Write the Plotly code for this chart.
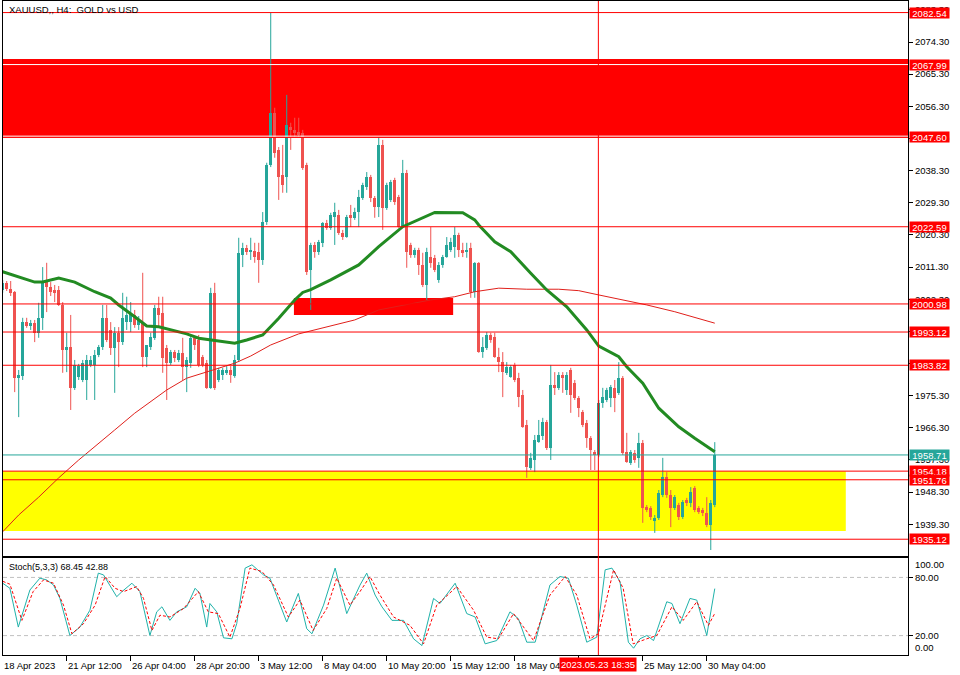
import numpy as np
import plotly.graph_objects as go

# ---------------- data ----------------
opens = [
    2004.9, 2006.9, 2005.2, 2004.3, 1980.3, 1980.8, 1995.9, 1994.8, 1995.7, 1992.9,
    1997.1, 2007.7, 2005.7, 2004.9, 2004.9, 2000.7, 1988.1, 1988.9, 1977.5, 1980.5,
    1979.7, 1979.7, 1983.9, 1983.9, 1986.7, 1988.9, 1997.1, 1993.7, 1988.7, 1992.9,
    1990.3, 1995.9, 1995.9, 1997.9, 1995.1, 1995.7, 1986.1, 1988.9, 1991.5, 1999.9,
    1998.5, 1988.7, 1984.5, 1987.5, 1985.3, 1987.3, 1983.3, 1984.5, 1991.5, 1990.9,
    1986.1, 1984.5, 1977.5, 2004.1, 1979.7, 1981.1, 1981.7, 1982.5, 1980.8, 1985.3,
    2014.7, 2016.7, 2015.5, 2015.8, 2015.5, 2013.3, 2023.9, 2039.9, 2054.5, 2044.1,
    2037.1, 2036.5, 2050.5, 2049.7, 2049.1, 2048.9, 2039.9, 2010.5, 2017.5, 2015.5,
    2018.1, 2023.7, 2022.3, 2025.3, 2025.9, 2020.9, 2019.7, 2025.9, 2025.1, 2026.7,
    2030.7, 2033.7, 2036.5, 2030.7, 2028.1, 2045.5, 2027.9, 2030.1, 2035.7, 2030.9,
    2022.5, 2037.7, 2017.5, 2014.7, 2016.1, 2011.9, 2006.3, 2014.1, 2013.9, 2007.7,
    2011.9, 2014.1, 2016.1, 2016.9, 2020.3, 2016.1, 2015.5, 2016.7, 2004.3, 2012.5,
    1987.5, 1988.7, 1992.3, 1991.7, 1986.1, 1984.7, 1981.7, 1980.5, 1983.9, 1980.3,
    1975.5, 1967.1, 1955.1, 1957.3, 1962.3, 1964.0, 1967.9, 1960.7, 1978.3, 1977.5,
    1981.1, 1976.9, 1982.5, 1978.9, 1974.7, 1970.7, 1967.7, 1963.5, 1959.5, 1958.7,
    1973.3, 1974.1, 1974.7, 1977.5, 1976.1, 1980.3, 1959.5, 1956.5, 1959.3, 1957.9,
    1962.1, 1944.1, 1943.9, 1940.2, 1941.1, 1947.5, 1952.5, 1947.5, 1943.9, 1944.7,
    1941.3, 1946.1, 1945.3, 1949.5, 1943.9, 1943.3, 1942.5, 1939.1, 1944.7,
]
highs = [
    2007.7, 2007.4, 2007.4, 2004.6, 1982.5, 1997.1, 1997.1, 1996.5, 1996.5, 2001.3,
    2011.3, 2012.5, 2007.1, 2006.3, 2006.0, 2001.5, 1992.9, 1997.9, 1985.3, 1984.2,
    1985.3, 1986.7, 1986.4, 1988.1, 1989.5, 2000.7, 2000.7, 1995.9, 1994.5, 1994.5,
    2004.1, 2003.0, 2001.5, 1999.3, 1997.6, 2009.7, 1988.9, 1992.9, 2000.7, 2003.0,
    2003.0, 1989.5, 1988.1, 1988.1, 1988.1, 1991.5, 1986.1, 1992.3, 1992.0, 1992.3,
    1986.7, 1985.3, 2005.5, 2006.9, 1983.1, 1983.1, 1983.6, 1983.6, 1986.7, 2019.5,
    2018.1, 2017.5, 2019.5, 2018.1, 2018.1, 2026.7, 2040.5, 2082.5, 2055.9, 2044.9,
    2045.5, 2059.5, 2051.7, 2053.1, 2053.1, 2049.7, 2040.5, 2018.1, 2018.3, 2018.9,
    2023.9, 2024.5, 2026.5, 2029.3, 2027.3, 2021.7, 2025.9, 2028.7, 2027.9, 2032.9,
    2034.9, 2037.9, 2037.1, 2031.2, 2047.7, 2046.9, 2034.9, 2035.7, 2036.3, 2031.5,
    2041.3, 2038.5, 2018.1, 2016.7, 2016.7, 2015.3, 2016.7, 2022.5, 2014.7, 2012.7,
    2014.7, 2019.7, 2019.5, 2022.5, 2020.9, 2018.1, 2018.1, 2018.1, 2012.7, 2012.7,
    1991.7, 1993.1, 1992.9, 1992.9, 1988.7, 1987.5, 1984.7, 1983.9, 1984.5, 1981.7,
    1976.9, 1968.5, 1959.3, 1964.3, 1968.5, 1969.1, 1968.5, 1983.9, 1981.9, 1981.9,
    1981.9, 1981.9, 1983.1, 1979.7, 1975.2, 1971.3, 1968.5, 1964.0, 1960.1, 1974.1,
    1977.5, 1977.5, 1978.3, 1979.7, 1984.7, 1980.8, 1964.9, 1960.1, 1960.1, 1964.9,
    1962.9, 1944.7, 1944.4, 1941.9, 1948.9, 1957.9, 1953.9, 1948.9, 1947.5, 1945.3,
    1946.1, 1946.7, 1949.7, 1950.0, 1944.4, 1943.9, 1946.9, 1946.1, 1962.3,
]
lows = [
    2004.1, 2004.6, 2003.2, 1976.3, 1969.3, 1979.7, 1994.3, 1993.7, 1990.3, 1991.5,
    1993.7, 1998.7, 2003.2, 2001.5, 2000.4, 1981.7, 1981.9, 1971.3, 1976.9, 1979.7,
    1979.1, 1974.1, 1983.3, 1974.1, 1986.1, 1988.1, 1990.3, 1986.7, 1976.1, 1983.3,
    1989.5, 1993.7, 1993.1, 1994.3, 1993.7, 1983.3, 1983.3, 1988.1, 1990.9, 1994.3,
    1981.7, 1974.1, 1983.9, 1984.7, 1984.7, 1979.7, 1976.3, 1983.1, 1988.1, 1983.3,
    1983.3, 1977.2, 1977.2, 1976.9, 1979.1, 1979.7, 1981.1, 1978.9, 1980.3, 1984.7,
    2011.3, 2014.7, 2013.3, 2012.5, 2006.9, 2011.9, 2023.1, 2039.3, 2041.9, 2030.1,
    2032.1, 2032.1, 2044.1, 2047.7, 2047.7, 2038.5, 2009.1, 1999.3, 2013.9, 2014.7,
    2016.9, 2021.7, 2021.7, 2017.5, 2020.3, 2018.9, 2019.5, 2022.5, 2024.5, 2022.5,
    2030.1, 2032.9, 2029.5, 2025.1, 2025.3, 2021.7, 2027.3, 2029.5, 2028.7, 2022.3,
    2022.3, 2011.1, 2013.9, 2013.9, 2009.1, 2005.7, 2002.1, 2011.1, 2009.9, 2006.9,
    2011.1, 2013.9, 2015.5, 2013.9, 2014.1, 2014.1, 2013.9, 2002.7, 2002.7, 1987.3,
    1985.9, 1988.1, 1990.1, 1985.9, 1981.9, 1974.9, 1981.1, 1980.3, 1979.1, 1972.1,
    1966.3, 1952.3, 1954.5, 1953.9, 1962.1, 1962.9, 1960.1, 1957.3, 1975.5, 1976.9,
    1976.1, 1975.5, 1970.5, 1974.1, 1969.3, 1966.5, 1960.7, 1954.5, 1954.5, 1958.1,
    1971.9, 1973.5, 1972.1, 1970.7, 1975.5, 1958.7, 1956.5, 1955.9, 1956.5, 1955.1,
    1939.7, 1942.7, 1940.5, 1936.9, 1940.5, 1946.9, 1946.7, 1938.5, 1943.3, 1940.5,
    1940.8, 1944.4, 1944.1, 1942.7, 1942.2, 1941.6, 1938.5, 1932.1, 1944.1,
]
closes = [
    2006.9, 2005.2, 2004.1, 1980.3, 1981.1, 1995.9, 1994.8, 1995.7, 1992.9, 1997.1,
    2006.9, 2005.7, 2004.3, 2004.1, 2000.7, 1988.1, 1988.9, 1977.5, 1983.9, 1983.6,
    1984.5, 1985.3, 1985.3, 1986.7, 1988.9, 1997.1, 1990.9, 1988.7, 1992.9, 1990.3,
    1997.1, 1997.9, 1998.5, 1995.1, 1996.5, 1986.1, 1989.5, 1991.7, 1999.9, 1997.9,
    1985.9, 1984.5, 1987.5, 1985.9, 1987.3, 1983.3, 1985.3, 1991.5, 1989.5, 1983.9,
    1983.9, 1977.5, 2004.1, 1977.5, 1982.5, 1982.5, 1982.5, 1981.1, 1985.3, 2015.3,
    2016.7, 2015.5, 2016.1, 2014.1, 2013.3, 2023.9, 2039.9, 2054.5, 2043.3, 2036.5,
    2034.3, 2051.1, 2049.7, 2048.9, 2048.3, 2039.1, 2009.9, 2017.5, 2015.5, 2018.3,
    2023.7, 2022.3, 2025.9, 2026.7, 2020.9, 2019.7, 2025.3, 2025.1, 2026.7, 2030.9,
    2034.3, 2036.5, 2030.7, 2028.1, 2045.5, 2027.9, 2034.3, 2035.1, 2029.5, 2022.5,
    2037.7, 2015.5, 2014.7, 2016.1, 2011.9, 2006.3, 2015.5, 2012.5, 2010.5, 2011.9,
    2014.1, 2017.5, 2018.3, 2020.3, 2016.1, 2015.3, 2016.1, 2004.3, 2012.5, 1987.5,
    1988.9, 1992.3, 1990.9, 1986.1, 1984.7, 1981.9, 1983.3, 1983.3, 1979.7, 1974.9,
    1966.5, 1955.3, 1957.9, 1962.9, 1964.3, 1967.9, 1960.7, 1978.3, 1977.5, 1981.1,
    1980.3, 1981.1, 1975.5, 1974.7, 1971.9, 1967.1, 1963.5, 1960.1, 1958.7, 1973.3,
    1974.9, 1976.9, 1977.7, 1974.7, 1980.3, 1959.3, 1956.7, 1959.5, 1957.3, 1962.1,
    1943.9, 1943.3, 1941.3, 1941.1, 1948.1, 1952.5, 1947.5, 1943.9, 1946.9, 1941.3,
    1945.5, 1945.3, 1948.3, 1943.3, 1942.7, 1942.5, 1939.1, 1945.3, 1958.71,
]

# moving averages (bar index, price)
ma_fast_bar = [0, 4, 8, 10, 14, 18, 23, 27, 29, 33, 36, 39, 42, 46, 49, 53, 58, 61, 65, 69,
               73, 75, 77, 82, 89, 94, 100, 108, 115, 118, 119, 123, 127, 132, 136, 141,
               146, 149, 154, 156, 160, 164, 169, 173, 178]
ma_fast = [2010.0, 2008.6, 2007.1, 2007.1, 2008.2, 2007.1, 2004.4, 2002.6, 2000.7, 1997.4,
           1994.8, 1994.6, 1993.7, 1992.6, 1991.4, 1990.7, 1990.0, 1990.9, 1992.3, 1997.0,
           2002.1, 2004.2, 2005.0, 2007.7, 2011.9, 2017.0, 2022.6, 2026.6, 2026.5, 2024.5,
           2023.1, 2018.4, 2015.6, 2009.6, 2004.9, 2000.2, 1993.7, 1989.2, 1986.2, 1983.4,
           1978.8, 1971.8, 1966.6, 1963.4, 1959.6]
ma_slow_bar = [0, 4, 9, 14, 19, 24, 28, 33, 41, 46, 51, 58, 62, 67, 74, 88, 94, 107, 113,
               118, 124, 131, 139, 144, 149, 154, 161, 168, 173, 178]
ma_slow = [1937.2, 1941.9, 1946.9, 1952.3, 1957.3, 1962.1, 1965.7, 1970.4, 1976.9, 1980.2,
           1982.0, 1984.4, 1986.4, 1989.5, 1992.6, 1996.5, 1999.3, 2002.1, 2003.0, 2004.4,
           2005.4, 2005.1, 2005.1, 2004.7, 2003.5, 2002.4, 2000.7, 1998.8, 1997.3, 1995.6]

# stochastic (5,3,3)
stoch_k_bar = [0, 1.8, 3.9, 6.8, 9.3, 11, 12.7, 14.3, 16.8, 19.3, 21.8, 23.9, 25.2, 28.5, 29.8,
               32.3, 34.3, 36.8, 38.5, 39.8, 41.8, 43.5, 46, 48.1, 49.3, 51, 51.8, 53.5, 55.2,
               57.3, 58.5, 60.6, 62.3, 65.2, 66.8, 71, 73.9, 76, 77.3, 80.2, 83.1, 86, 89.3,
               91, 93.1, 94.8, 97.3, 100.2, 102.7, 104.8, 107.7, 109.3, 113.1, 116, 118.1,
               120.6, 123.5, 126.8, 128.9, 131, 133.1, 136.8, 139.3, 141.4, 143.5, 146, 148.5,
               150.6, 152.3, 154.3, 156.4, 157.7, 159.3, 161, 162.7, 166, 167.3, 169.3, 171.8,
               173.5, 176, 178]
stoch_k = [74, 68.8, 28.8, 67, 79.2, 77.4, 72.2, 58.3, 20.1, 28.8, 46.2, 84.4, 82.6, 60.1, 65.3,
           74, 65.3, 20.1, 44.5, 49.7, 35.7, 44.5, 49.7, 68.8, 63.5, 28.8, 53.1, 44.5, 17.7,
           16.7, 32.3, 89.6, 93, 82.6, 79.2, 34, 63.5, 27.1, 21.9, 51.4, 89.6, 42.7, 72,
           84.4, 61.8, 49.7, 35.7, 35.7, 16.7, 9.7, 58.3, 53.1, 74, 42.7, 39.2,
           11.5, 14.9, 44.5, 37.5, 13.2, 13.2, 72.2, 80.9, 79.2, 51.4, 13.2, 18.4,
           87.8, 89.6, 75.7, 13.2, 7, 16.7, 20.1, 14.9, 54.9, 53.1, 32.3, 58.3,
           56.6, 20.1, 68.45]
stoch_d_bar = [0, 1.8, 4.8, 7.6, 10.2, 12.7, 15.2, 17.3, 20.2, 23.1, 25.6, 28.1, 30.2, 33.5,
               35.2, 37.3, 39.3, 41.8, 45.2, 48.9, 51.4, 53.9, 56.8, 59.3, 61.8, 64.8, 67.7,
               71.4, 74.3, 77.6, 81, 83.5, 86.8, 89.3, 91.8, 94.3, 97.7, 101.8, 105.2, 108.5,
               113.5, 117.7, 121, 123.9, 127.7, 132.7, 136.8, 140.6, 143.5, 146.8, 148.9,
               152.7, 155.1, 157.6, 161, 163.5, 167.3, 170.1, 173.5, 176.4, 178]
stoch_d = [76, 73, 35.7, 65.3, 77.4, 74, 51.4, 21.9, 32.3, 51.4, 80.9, 68.8, 65.3, 70.5,
           58.3, 25.3, 41, 39.2, 47.9, 65.3, 44.5, 42.7, 18.4, 47.9, 89.6, 86.1, 72.2,
           39.2, 56.6, 25.3, 47.9, 79.2, 51.4, 65.3, 80.9, 61.8, 39.2, 30.6, 11.5, 51.4,
           70.5, 46.2, 18.4, 16.7, 42.7, 14.9, 61.8, 80.9, 61.8, 16.7, 21.9,
           87.8, 68.8, 11.5, 16.7, 20.1, 49.7, 35.7, 54.9, 30.6, 42.88]
stoch_levels = [80, 20]

# horizontal levels
levels = [2082.54, 2067.99, 2047.60, 2022.59, 2000.98, 1993.12, 1983.82,
          1958.71, 1954.18, 1951.76, 1935.12]
level_kind = ["red", "white", "red", "red", "red", "red", "red",
              "bid", "red", "red", "red"]

# zones
big_zone = (2069.55, 2047.60)
demand_zone = (1954.18, 1937.43, 210.75)
small_zone = (2002.64, 1997.90, 72.8, 112.6)

# time axis
tick_bars = [0, 16, 32, 48, 64, 80, 96, 112, 128, 144, 160, 176]
tick_text = ["18 Apr 2023", "21 Apr 12:00", "26 Apr 04:00", "28 Apr 20:00", "3 May 12:00",
             "8 May 04:00", "10 May 20:00", "15 May 12:00", "18 May 04:00", "",
             "25 May 12:00", "30 May 04:00"]
cursor_bar = 148.9
cursor_text = "2023.05.23 18:35"

price_ticks = [1930.30 + 9 * k for k in range(18)]

title_text = "XAUUSD,, H4:  GOLD vs USD"
stoch_text = "Stoch(5,3,3) 68.45 42.88"

# ---------------- figure ----------------
assert len(opens) == len(highs) == len(lows) == len(closes)
BULL = "#26A69A"
BEAR = "#EF5350"
FONT = "Liberation Sans, Arial, sans-serif"
FS = 9.5

o = np.array(opens); h = np.array(highs); l = np.array(lows); c = np.array(closes)
idx = np.arange(len(c))
bull = c >= o
base = np.minimum(o, c)
height = np.maximum(np.abs(c - o), 0.3)

XR = [0.075, 226.3]
YR = [1930.43, 2085.78]

fig = go.Figure()

for mask, col in [(bull, BULL), (~bull, BEAR)]:
    xs, ys = [], []
    for i in idx[mask]:
        xs += [int(i), int(i), None]
        ys += [float(l[i]), float(h[i]), None]
    fig.add_trace(go.Scatter(x=xs, y=ys, mode="lines", line=dict(color=col, width=1),
                             xaxis="x", yaxis="y", hoverinfo="skip", showlegend=False))
    fig.add_trace(go.Bar(x=idx[mask], y=height[mask], base=base[mask], width=0.75,
                         marker=dict(color=col, line=dict(width=0)),
                         xaxis="x", yaxis="y", showlegend=False))

fig.add_trace(go.Scatter(x=ma_slow_bar, y=ma_slow, mode="lines",
                         line=dict(color="#E0201B", width=1), xaxis="x", yaxis="y",
                         showlegend=False))
fig.add_trace(go.Scatter(x=ma_fast_bar, y=ma_fast, mode="lines",
                         line=dict(color="#228B22", width=3), xaxis="x", yaxis="y",
                         showlegend=False))

fig.add_trace(go.Scatter(x=stoch_k_bar, y=stoch_k, mode="lines",
                         line=dict(color="#20B2AA", width=1), xaxis="x2", yaxis="y2",
                         showlegend=False))
fig.add_trace(go.Scatter(x=stoch_d_bar, y=stoch_d, mode="lines",
                         line=dict(color="#FF0000", width=1, dash="3px,2px"),
                         xaxis="x2", yaxis="y2", showlegend=False))

shapes = []
shapes.append(dict(type="rect", xref="paper", yref="y", x0=0, x1=1,
                   y0=big_zone[1], y1=big_zone[0], fillcolor="#FF0000",
                   line=dict(width=0), layer="below"))
shapes.append(dict(type="rect", xref="x", yref="y", x0=XR[0], x1=demand_zone[2],
                   y0=demand_zone[1], y1=demand_zone[0], fillcolor="#FFFF00",
                   line=dict(width=0), layer="below"))
shapes.append(dict(type="rect", xref="x", yref="y", x0=small_zone[2], x1=small_zone[3],
                   y0=small_zone[1], y1=small_zone[0], fillcolor="#FF0000",
                   line=dict(width=0), layer="below"))
kind_color = {"red": "#FF0000", "white": "#FFFFFF", "bid": "#26A69A"}
for lv, kd in zip(levels, level_kind):
    shapes.append(dict(type="line", xref="paper", yref="y", x0=0, x1=1, y0=lv, y1=lv,
                       line=dict(color=kind_color[kd], width=1), layer="above"))
shapes.append(dict(type="line", xref="paper", yref="y", x0=0, x1=1,
                   y0=big_zone[1] + 0.35, y1=big_zone[1] + 0.35,
                   line=dict(color="#FFFFFF", width=1), layer="above"))
for sl in stoch_levels:
    shapes.append(dict(type="line", xref="x2 domain", yref="y2", x0=0, x1=1, y0=sl, y1=sl,
                       line=dict(color="#C0C0C0", width=1, dash="4px,3px"), layer="below"))
shapes.append(dict(type="line", xref="x", yref="paper", x0=cursor_bar, x1=cursor_bar,
                   y0=0, y1=1, line=dict(color="#FF0000", width=1), layer="above"))

ann = []
ann.append(dict(text=title_text, xref="paper", yref="paper", x=0, y=1, xanchor="left",
                yanchor="top", xshift=4, yshift=-1, showarrow=False,
                font=dict(family=FONT, size=FS, color="black")))
ann.append(dict(text=stoch_text, xref="paper", yref="y2 domain", x=0, y=1, xanchor="left",
                yanchor="top", xshift=4, yshift=-2, showarrow=False,
                font=dict(family=FONT, size=9, color="black")))
for lv, kd in zip(levels, level_kind):
    bg = "#26A69A" if kd == "bid" else "#FF0000"
    ann.append(dict(text=f"{lv:.2f}", xref="paper", yref="y", x=1, y=lv, xanchor="left",
                    yanchor="middle", xshift=1, showarrow=False, bgcolor=bg,
                    width=39, height=10, borderpad=0,
                    font=dict(family=FONT, size=FS, color="white")))
ann.append(dict(text="100.00", xref="paper", yref="y2 domain", x=1, y=1, xanchor="left",
                yanchor="top", xshift=5, yshift=1, showarrow=False,
                font=dict(family=FONT, size=FS, color="black")))
ann.append(dict(text="0.00", xref="paper", yref="y2 domain", x=1, y=0, xanchor="left",
                yanchor="bottom", xshift=5, yshift=0, showarrow=False,
                font=dict(family=FONT, size=FS, color="black")))
for tb, tt in zip(tick_bars, tick_text):
    if tt:
        ann.append(dict(text=tt, xref="x2", yref="paper", x=max(tb, XR[0]), y=0,
                        xanchor="left", yanchor="top", xshift=-1, yshift=-3,
                        showarrow=False, font=dict(family=FONT, size=FS, color="black")))
ann.append(dict(text=cursor_text, xref="x2", yref="paper", x=cursor_bar, y=0,
                xanchor="center", yanchor="top", yshift=-2, showarrow=False,
                bgcolor="#FF0000", borderpad=1,
                font=dict(family=FONT, size=FS, color="white")))

axis_common = dict(showgrid=False, zeroline=False, showline=True, mirror=True,
                   linecolor="black", linewidth=1)

fig.update_layout(
    width=960, height=675,
    margin=dict(l=3, r=52, t=1, b=20, autoexpand=False),
    paper_bgcolor="white", plot_bgcolor="white",
    barmode="overlay", bargap=0, hovermode=False, showlegend=False,
    shapes=shapes, annotations=ann,
    xaxis=dict(domain=[0, 1], range=XR, anchor="y", showticklabels=False, ticks="",
               **axis_common),
    yaxis=dict(domain=[0.1514, 1], range=YR, side="right", anchor="x",
               tickvals=price_ticks, ticktext=[f"{v:.2f}" for v in price_ticks],
               ticks="outside", ticklen=4, tickcolor="black",
               tickfont=dict(family=FONT, size=FS, color="black"), **axis_common),
    xaxis2=dict(domain=[0, 1], range=XR, anchor="y2", tickvals=tick_bars,
                ticks="outside", ticklen=5, tickcolor="black", showticklabels=False,
                **axis_common),
    yaxis2=dict(domain=[0, 0.1483], range=[0, 100], side="right", anchor="x2",
                tickvals=stoch_levels, ticktext=[f"{v:.2f}" for v in stoch_levels],
                ticks="outside", ticklen=4, tickcolor="black",
                tickfont=dict(family=FONT, size=FS, color="black"), **axis_common),
)

fig.write_html("out.html", config={"displayModeBar": False},
               post_script="document.body.style.margin='0';document.body.style.overflow='hidden';")
